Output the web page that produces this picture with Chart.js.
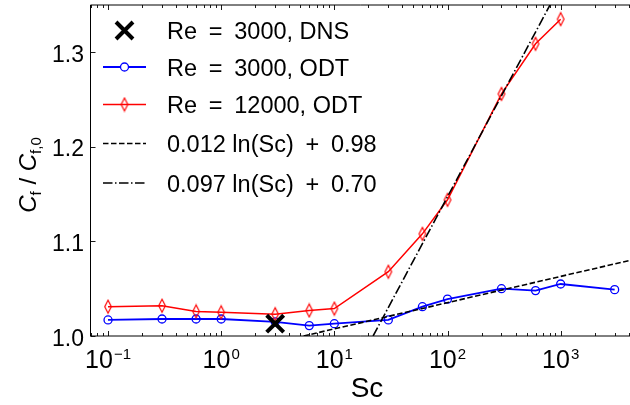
<!DOCTYPE html>
<html>
<head>
<meta charset="utf-8">
<script src="https://cdn.jsdelivr.net/npm/chart.js@4.4.1/dist/chart.umd.min.js"></script>
<style>
  html, body { margin: 0; padding: 0; background: #fff; }
  #wrap { width: 630px; height: 405px; }
</style>
</head>
<body>
<div id="wrap"><canvas id="chart" width="630" height="405"></canvas></div>
<script>
// data
const scOdt3000 = [0.1, 0.3, 0.6, 1, 3, 6, 10, 30, 60, 100, 300, 600, 1000, 3000];
const cfOdt3000 = [1.017, 1.018, 1.018, 1.018, 1.015, 1.011, 1.013, 1.017, 1.031, 1.039, 1.050, 1.048, 1.055, 1.049];

const scOdt12000 = [0.1, 0.3, 0.6, 1, 3, 6, 10, 30, 60, 100, 300, 600, 1000];
const cfOdt12000 = [1.031, 1.032, 1.026, 1.025, 1.023, 1.027, 1.029, 1.068, 1.108, 1.144, 1.256, 1.309, 1.335];

const scDns = [3];
const cfDns = [1.013];

// fit lines, end points as seen in the picture
const scFit1 = [5.35, 4100];
const cfFit1 = [1.0, 1.080];
const scFit2 = [22, 805];
const cfFit2 = [1.0, 1.35];

const legendLabels = ['Re = 3000, DNS', 'Re = 3000, ODT', 'Re = 12000, ODT',
                      '0.012 ln(Sc) + 0.98', '0.097 ln(Sc) + 0.70'];

const xMajor = [0.1, 1, 10, 100, 1000];
const xMajorExp = ['\u22121', '0', '1', '2', '3'];
const yMajor = [1.0, 1.1, 1.2, 1.3];
const yMajorLabels = ['1.0', '1.1', '1.2', '1.3'];

const FONT = '"Liberation Sans", Arial, sans-serif';

function pts(xs, ys) {
    return xs.map((x, i) => ({x: x, y: ys[i]}));
}

// thin diamond marker like matplotlib 'd'
function thinDiamond() {
    const c = document.createElement('canvas');
    c.width = 10; c.height = 16;
    const g = c.getContext('2d');
    g.strokeStyle = '#ff0000';
    g.lineWidth = 1.2;
    g.beginPath();
    g.moveTo(5, 1.5); g.lineTo(8.3, 8); g.lineTo(5, 14.5); g.lineTo(1.7, 8); g.closePath();
    g.stroke();
    return c;
}
const diamond = thinDiamond();

const decor = {
    id: 'decor',
    afterDraw(chart) {
        const ctx = chart.ctx;
        const xs = chart.scales.x, ys = chart.scales.y;
        const a = chart.chartArea;
        ctx.save();
        ctx.strokeStyle = '#000';
        ctx.fillStyle = '#000';

        // spines (right one is off the canvas)
        ctx.lineWidth = 1;
        ctx.beginPath();
        ctx.moveTo(a.left, a.top); ctx.lineTo(a.right, a.top);
        ctx.moveTo(a.left, a.top); ctx.lineTo(a.left, a.bottom);
        ctx.moveTo(a.left, a.bottom); ctx.lineTo(a.right, a.bottom);
        ctx.stroke();

        // x ticks, inside, top and bottom
        ctx.lineWidth = 0.9;
        ctx.beginPath();
        for (let d = -2; d <= 4; d++) {
            for (let k = 1; k <= 9; k++) {
                const v = k * Math.pow(10, d);
                if (v < xs.min || v > xs.max) continue;
                const px = Math.round(xs.getPixelForValue(v)) + 0.5;
                const len = k === 1 ? 5 : 3;
                ctx.moveTo(px, a.bottom); ctx.lineTo(px, a.bottom - len);
                ctx.moveTo(px, a.top); ctx.lineTo(px, a.top + len);
            }
        }
        yMajor.forEach(v => {
            const py = Math.round(ys.getPixelForValue(v)) + 0.5;
            ctx.moveTo(a.left, py); ctx.lineTo(a.left + 5, py);
        });
        ctx.stroke();

        // x tick labels 10^n
        xMajor.forEach((v, i) => {
            const px = xs.getPixelForValue(v);
            ctx.font = '25px ' + FONT;
            const wb = ctx.measureText('10').width;
            ctx.font = '15px ' + FONT;
            const we = ctx.measureText(xMajorExp[i]).width;
            const x0 = px - (wb + we + 1) / 2;
            ctx.textAlign = 'left';
            ctx.textBaseline = 'alphabetic';
            ctx.font = '25px ' + FONT;
            ctx.fillText('10', x0, 367.5);
            ctx.font = '15px ' + FONT;
            ctx.fillText(xMajorExp[i], x0 + wb + 1, 359);
        });

        // y tick labels
        ctx.font = '23px ' + FONT;
        ctx.textAlign = 'right';
        yMajor.forEach((v, i) => {
            ctx.fillText(yMajorLabels[i], 84, ys.getPixelForValue(v) + 9.5);
        });

        // x title
        ctx.textAlign = 'center';
        ctx.font = '28px ' + FONT;
        ctx.fillText('Sc', 367, 396.5);

        // y title: C_f / C_f,0
        const parts = [
            {t: 'C', f: 'italic 24px ' + FONT, dy: 0},
            {t: 'f', f: '15px ' + FONT, dy: 5},
            {t: ' / ', f: '24px ' + FONT, dy: 0},
            {t: 'C', f: 'italic 24px ' + FONT, dy: 0},
            {t: 'f,0', f: '15px ' + FONT, dy: 5}
        ];
        let total = 0;
        parts.forEach(p => { ctx.font = p.f; p.w = ctx.measureText(p.t).width; total += p.w; });
        ctx.translate(36, 175);
        ctx.rotate(-Math.PI / 2);
        ctx.textAlign = 'left';
        let cx = -total / 2;
        parts.forEach(p => { ctx.font = p.f; ctx.fillText(p.t, cx, p.dy); cx += p.w; });
        ctx.setTransform(1, 0, 0, 1, 0, 0);

        // legend
        const rows = [30.5, 67, 104.5, 143.5, 183];
        const ds = chart.data.datasets;
        ds.forEach((d, r) => {
            const y = rows[r];
            if (d.showLine !== false) {
                ctx.save();
                ctx.strokeStyle = d.borderColor;
                ctx.lineWidth = d.borderWidth;
                ctx.setLineDash(d.borderDash || []);
                ctx.beginPath();
                ctx.moveTo(103, y); ctx.lineTo(146, y);
                ctx.stroke();
                ctx.restore();
            }
            if (d.pointStyle instanceof HTMLCanvasElement) {
                ctx.drawImage(d.pointStyle, 124.5 - d.pointStyle.width / 2, y - d.pointStyle.height / 2);
            } else if (d.pointRadius > 0) {
                ctx.save();
                ctx.strokeStyle = d.pointBorderColor;
                ctx.lineWidth = d.pointBorderWidth;
                ctx.beginPath();
                if (d.pointStyle === 'circle') {
                    ctx.fillStyle = '#fff';
                    ctx.arc(124.5, y, d.pointRadius, 0, Math.PI * 2);
                    ctx.fill();
                } else {
                    const s = d.pointRadius * 0.707;
                    ctx.moveTo(124.5 - s, y - s); ctx.lineTo(124.5 + s, y + s);
                    ctx.moveTo(124.5 + s, y - s); ctx.lineTo(124.5 - s, y + s);
                }
                ctx.stroke();
                ctx.restore();
            }
            // math-style spacing round = and +
            const txt = legendLabels[r].replace(' = ', '\u2002=\u2002').replace(' + ', '\u2002+\u2002');
            ctx.fillStyle = '#000';
            ctx.font = '23.5px ' + FONT;
            ctx.textAlign = 'left';
            ctx.fillText(txt, 167, y + 8.5);
        });
        ctx.restore();
    }
};

new Chart(document.getElementById('chart').getContext('2d'), {
    type: 'line',
    data: {
        datasets: [
            {
                label: legendLabels[0],
                data: pts(scDns, cfDns),
                showLine: false,
                pointStyle: 'crossRot',
                pointRadius: 12,
                pointBorderWidth: 4,
                pointBorderColor: '#000',
                borderColor: '#000',
                order: 0
            },
            {
                label: legendLabels[1],
                data: pts(scOdt3000, cfOdt3000),
                borderColor: '#0000ff',
                borderWidth: 1.8,
                pointStyle: 'circle',
                pointRadius: 4,
                pointBorderWidth: 1.3,
                pointBorderColor: '#0000ff',
                pointBackgroundColor: 'rgba(0,0,0,0)',
                order: 4
            },
            {
                label: legendLabels[2],
                data: pts(scOdt12000, cfOdt12000),
                borderColor: '#ff0000',
                borderWidth: 1.5,
                pointStyle: diamond,
                order: 3
            },
            {
                label: legendLabels[3],
                data: pts(scFit1, cfFit1),
                borderColor: '#000',
                borderWidth: 1.6,
                borderDash: [5.5, 2.5],
                pointRadius: 0,
                order: 2
            },
            {
                label: legendLabels[4],
                data: pts(scFit2, cfFit2),
                borderColor: '#000',
                borderWidth: 1.6,
                borderDash: [9.5, 2.5, 1.5, 2.5],
                pointRadius: 0,
                order: 1
            }
        ]
    },
    options: {
        responsive: false,
        animation: false,
        layout: { autoPadding: false, padding: { left: 90.5, top: 5, right: 0, bottom: 69 } },
        elements: { line: { tension: 0 } },
        plugins: { legend: { display: false }, tooltip: { enabled: false } },
        scales: {
            x: { type: 'logarithmic', min: 0.07, max: 4100, display: false },
            y: { type: 'linear', min: 1.0, max: 1.35, display: false }
        }
    },
    plugins: [decor]
});
</script>
</body>
</html>
